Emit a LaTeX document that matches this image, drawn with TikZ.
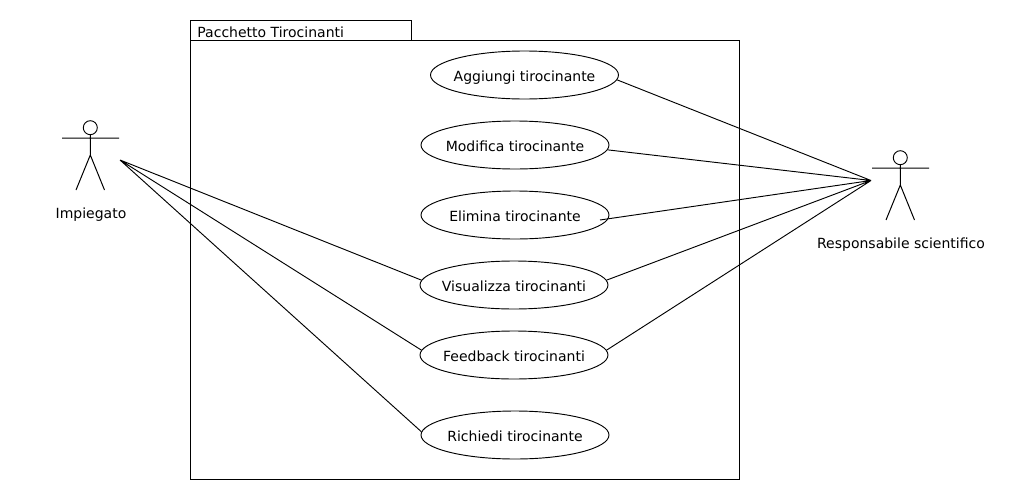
\documentclass[tikz,border=0pt]{standalone}
\usepackage{fontspec}
\setmainfont{DejaVu Sans}
\usetikzlibrary{shapes.geometric}
\tikzset{
  usecase/.style={draw,ellipse,minimum width=141pt,minimum height=36pt,inner xsep=-20pt,inner ysep=0pt,text height=9.5pt,text depth=0.5pt,font=\fontsize{10.5}{12}\selectfont},
  actorlabel/.style={font=\fontsize{10.5}{12}\selectfont},
  stick/.style={line width=0.75pt}
}
\begin{document}
\begin{tikzpicture}[x=0.75pt,y=-0.75pt,line width=0.7pt]
    \useasboundingbox (0,0) rectangle (1010,500);
    \fill[white] (0,0) rectangle (1010,500);
    % package
    \node[draw,minimum width=412pt,minimum height=329.25pt,inner sep=0pt,outer sep=0pt] (pack) at (465,260) {};
    \node[draw,anchor=south west,minimum width=165.75pt,minimum height=15pt,inner sep=0pt,outer sep=0pt] (tab) at (pack.north west) {};
    \node[actorlabel,anchor=west] (tablabel) at (192.5,32.5) {Pacchetto Tirocinanti};
    % use cases
    \node[usecase] (add) at (524.5,75) {Aggiungi tirocinante};
    \node[usecase] (mod) at (515,145) {Modifica tirocinante};
    \node[usecase] (del) at (515,215) {Elimina tirocinante};
    \node[usecase] (view) at (514,285) {Visualizza tirocinanti};
    \node[usecase] (feed) at (514,355) {Feedback tirocinanti};
    \node[usecase] (req) at (515,435) {Richiedi tirocinante};
    % left actor
    \node[draw,circle,minimum size=10.5pt,inner sep=0pt] (headL) at (90.3,127.7) {};
    \coordinate (hipL) at (90.3,155);
    \coordinate (armLa) at (62,138);
    \coordinate (armLb) at (119,138);
    \coordinate (footLa) at (76,190);
    \coordinate (footLb) at (104.5,190);
    \draw[stick] (headL) -- (hipL) -- (footLa) (hipL) -- (footLb) (armLa) -- (armLb);
    \node[actorlabel] (impiegato) at (91,214.5) {Impiegato};
    % right actor
    \node[draw,circle,minimum size=10.5pt,inner sep=0pt] (headR) at (900.3,157.7) {};
    \coordinate (hipR) at (900.3,185);
    \coordinate (armRa) at (872,168);
    \coordinate (armRb) at (929,168);
    \coordinate (footRa) at (886,220);
    \coordinate (footRb) at (914.5,220);
    \draw[stick] (headR) -- (hipR) -- (footRa) (hipR) -- (footRb) (armRa) -- (armRb);
    \node[actorlabel] (resp) at (901,244.5) {Responsabile scientifico};
    % connectors
    \coordinate (endL) at (120,160);
    \coordinate (endR) at (871,180.5);
    \coordinate (delEnd) at (600,220);
    \draw (endL) -- (view.177) (endL) -- (feed.177) (endL) -- (req.178);
    \draw (endR) -- (add.-3) (endR) -- (mod.-3) (endR) -- (delEnd) (endR) -- (view.3) (endR) -- (feed.3);
\end{tikzpicture}
\end{document}
